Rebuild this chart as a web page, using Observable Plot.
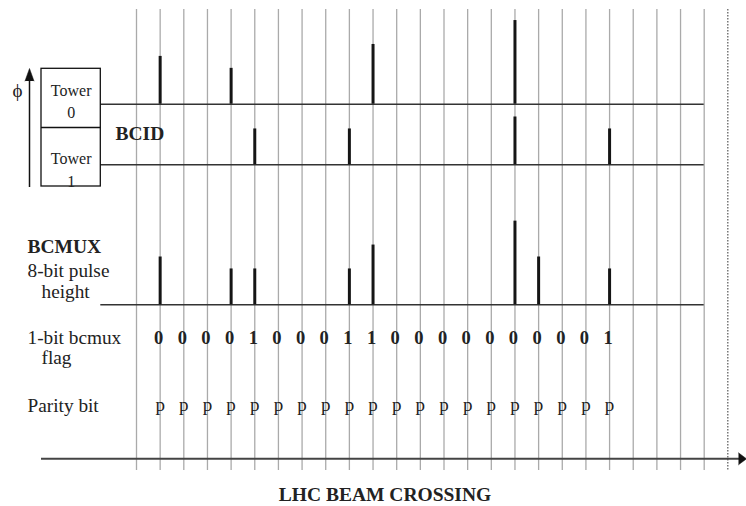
<!DOCTYPE html>
<html><head><meta charset="utf-8">
<script src="https://cdn.jsdelivr.net/npm/d3@7"></script>
<script src="https://cdn.jsdelivr.net/npm/@observablehq/plot@0.6"></script>
<style>html,body{margin:0;padding:0;background:#fff;} svg text{font-family:"Liberation Serif","Times New Roman",serif;}</style>
</head><body><div id="chart"></div>
<script>
// ---- data ----
const crossings = d3.range(0, 25);              // bunch-crossing grid lines
const tower0Crossings = [1, 4, 10, 16];
const tower0Heights   = [4, 3, 5, 7];
const tower1Crossings = [5, 9, 16, 20];
const tower1Heights   = [3, 3, 4, 3];
const bcmuxCrossings  = [1, 4, 5, 9, 10, 16, 17, 20];
const bcmuxHeights    = [4, 3, 3, 3, 5, 7, 4, 3];
const flagBits   = [0,0,0,0,1,0,0,0,1,1,0,0,0,0,0,0,0,0,0,1];
const parityBits = ["p","p","p","p","p","p","p","p","p","p","p","p","p","p","p","p","p","p","p","p"];
const rowLabels = ["8-bit pulse", "height", "1-bit bcmux", "flag", "Parity bit"];
const boldLabels = ["BCMUX", "BCID"];
const towerLabels = ["Tower", "0", "Tower", "1"];
const title = "LHC BEAM CROSSING";

// ---- layout ----
const W = 746, H = 506;
const PX0 = 136, STEP = 23.654;           // pixel of crossing 0, px per crossing
const k = px => (px - PX0) / STEP;
const UNIT = 11.95;
const base0 = 103.7, base1 = 164.3, baseM = 304.3, axisY = 458.3;
const serif = "'Liberation Serif', 'Times New Roman', serif";

const rows = (cs, hs, base) => cs.map((c, i) => ({bc: c, h: hs[i], base}));
const pulses = [
  ...rows(tower0Crossings, tower0Heights, base0),
  ...rows(tower1Crossings, tower1Heights, base1),
  ...rows(bcmuxCrossings, bcmuxHeights, baseM)
];
const flags = flagBits.map((b, i) => ({bc: i + 1, b: String(b)}));
const parity = parityBits.map((p, i) => ({bc: i + 1, p}));

const boxL = k(41), boxR = k(100.3);
const upX = k(29);
const hw = 4.5 / STEP;

const chart = Plot.plot({
  width: W, height: H, margin: 0,
  x: {domain: [k(0), k(W)], range: [0, W], axis: null},
  y: {domain: [0, H], range: [0, H], axis: null},
  style: {background: "#fff", fontFamily: serif},
  marks: [
    Plot.ruleX(crossings, {x: d => d, y1: 9, y2: 470, stroke: "#aaaaaa", strokeWidth: 1.3}),
    Plot.ruleX([25], {x: d => d, y1: 9, y2: 470, stroke: "#333", strokeWidth: 1, strokeDasharray: "1.5,1.5"}),
    Plot.ruleY([base0, base1, baseM], {y: d => d, x1: boxR, x2: 24, stroke: "#333", strokeWidth: 1.5}),
    Plot.ruleX(pulses, {x: "bc", y1: "base", y2: d => d.base - d.h * UNIT, stroke: "#151515", strokeWidth: 3}),
    // tower box
    Plot.rect([0], {x1: boxL, x2: boxR, y1: 68.3, y2: 186, stroke: "#111", strokeWidth: 1.3, fill: "none"}),
    Plot.ruleY([127], {y: d => d, x1: boxL, x2: boxR, stroke: "#111", strokeWidth: 1.3}),
    // phi arrow
    Plot.ruleX([upX], {x: d => d, y1: 187, y2: 78, stroke: "#111", strokeWidth: 1.5}),
    Plot.line([[upX - hw, 80.5], [upX, 68], [upX + hw, 80.5]], {x: d => d[0], y: d => d[1], fill: "#111", stroke: "#111", strokeWidth: 0.5}),
    // bottom axis
    Plot.ruleY([axisY], {y: d => d, x1: boxL, x2: k(739), stroke: "#444", strokeWidth: 2}),
    Plot.line([[k(738), axisY - 6], [k(746), axisY], [k(738), axisY + 6]], {x: d => d[0], y: d => d[1], fill: "#111", stroke: "#111", strokeWidth: 0.5}),
    // texts
    Plot.text(["ϕ"], {x: k(17), y: 90, text: d => d, fontSize: 19, fill: "#222", fontFamily: "'DejaVu Serif', serif"}),
    Plot.text(towerLabels, {x: (boxL + boxR) / 2, y: (d, i) => [90.6, 112.2, 158.2, 180.9][i], text: d => d, fontSize: 16, fill: "#222", fontFamily: serif}),
    Plot.text(boldLabels, {x: (d, i) => [k(27), k(115)][i], y: (d, i) => [246.2, 133.7][i], text: d => d, textAnchor: "start", fontSize: 19.5, fontWeight: "bold", fill: "#222", fontFamily: serif}),
    Plot.text(rowLabels, {
      x: (d, i) => (i === 1 || i === 3) ? k(41) : k(27),
      y: (d, i) => [270, 291, 337, 357, 405.6][i],
      text: d => d, textAnchor: "start",
      fontSize: 19.3, fill: "#222", fontFamily: serif
    }),
    Plot.text(flags, {x: "bc", y: 337.5, text: "b", dx: -1.5, fontSize: 18.5, fontWeight: "bold", fill: "#222", fontFamily: serif}),
    Plot.text(parity, {x: "bc", y: 404, text: "p", fontSize: 19, fill: "#222", fontFamily: serif}),
    Plot.text([title], {x: k(384.5), y: 493.8, text: d => d, fontSize: 19.5, fontWeight: "bold", fill: "#222", fontFamily: serif})
  ]
});
document.getElementById("chart").append(chart);
</script>
</body></html>
